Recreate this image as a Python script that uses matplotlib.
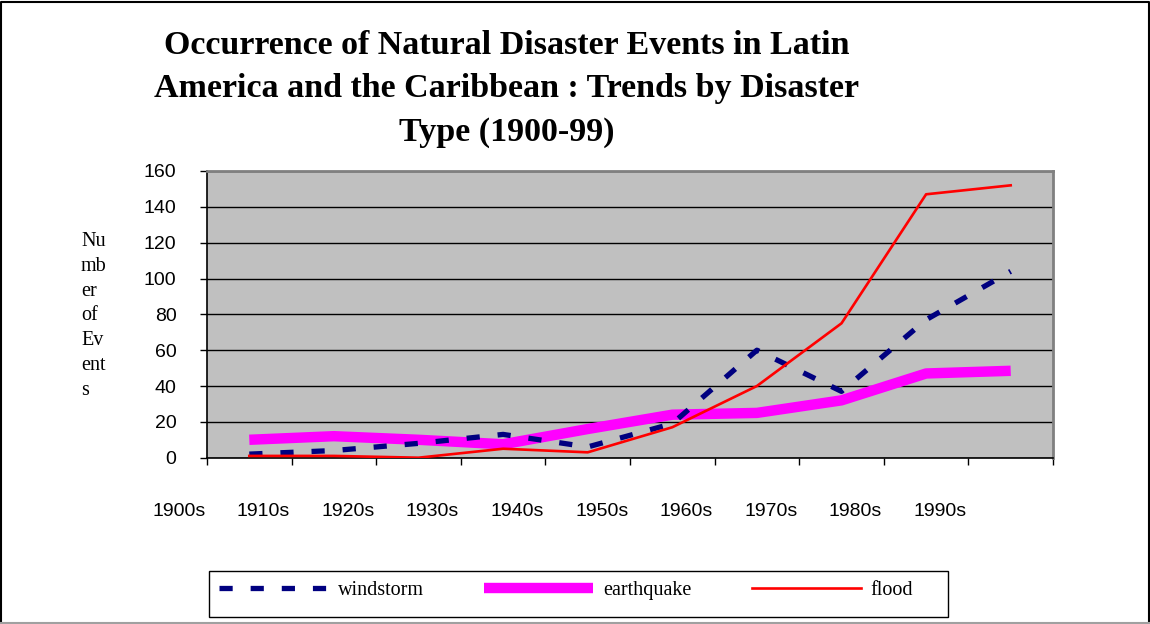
import matplotlib
matplotlib.use("Agg")
import matplotlib.pyplot as plt
from matplotlib.lines import Line2D
from matplotlib.patches import Rectangle
import matplotlib.transforms as mtransforms

# data
decades = ["1900s", "1910s", "1920s", "1930s", "1940s",
           "1950s", "1960s", "1970s", "1980s", "1990s"]
windstorm = [2, 4, 8, 13, 6, 19, 60, 37, 77, 104]
earthquake = [10, 12, 10, 7.5, 16, 24, 25, 32, 47, 48.5]
flood = [1, 1, 0, 5, 3, 17, 40, 75, 147, 152]
yticks = [0, 20, 40, 60, 80, 100, 120, 140, 160]

W, H = 1150, 624
fig = plt.figure(figsize=(W / 100, H / 100), dpi=100)
fig.patch.set_facecolor("white")

# plot area in pixel coords -> figure fractions
left, right, top, bottom = 207, 1053, 171, 457.7
ax = fig.add_axes([left / W, 1 - bottom / H, (right - left) / W, (bottom - top) / H])
ax.set_facecolor("#C0C0C0")

x = list(range(len(decades)))
ax.plot(x, earthquake, color="#FF00FF", lw=7.5, solid_capstyle="butt", zorder=3)
ax.plot(x, windstorm, color="#000080", lw=3.8, dashes=(2.5, 3.4), zorder=4)
ax.plot(x, flood, color="#FF0000", lw=1.9, zorder=5)

ax.set_xlim(-0.5, len(decades) - 0.5)
ax.set_ylim(0, 160)
ax.set_yticks(yticks)
ax.yaxis.grid(True, color="black", lw=1.0)
ax.set_axisbelow(True)

serif = "Liberation Serif"
sans = "Liberation Sans"

for lbl in ax.get_yticklabels():
    lbl.set_fontfamily(sans)
    lbl.set_fontsize(14)
ax.tick_params(axis="y", direction="out", length=5, width=1, pad=17, colors="black")

# category boundary tick marks on x
ax.set_xticks([i - 0.5 for i in range(len(decades) + 1)])
ax.set_xticklabels([])
ax.tick_params(axis="x", direction="out", length=5, width=1)

# decade labels sit offset to the left of the category centres
trans = mtransforms.blended_transform_factory(ax.transData, ax.transAxes)
for i, d in enumerate(decades):
    ax.text(i - 0.835, -54 / (bottom - top), d, transform=trans, ha="center",
            va="center", fontsize=14, family=sans, clip_on=False)

for s in ["top", "right"]:
    ax.spines[s].set_color("#808080")
    ax.spines[s].set_linewidth(2)
for s in ["left", "bottom"]:
    ax.spines[s].set_color("black")
    ax.spines[s].set_linewidth(1.2)

# title
fig.text(507 / W, 1 - 89 / H,
         "Occurrence of Natural Disaster Events in Latin\n"
         "America and the Caribbean : Trends by Disaster\n"
         "Type (1900-99)",
         ha="center", va="center", fontsize=24.5, fontweight="bold",
         family=serif, linespacing=1.5)

# y label broken into short lines like the original
fig.text(81 / W, 1 - 316 / H, "Nu\nmb\ner\nof\nEv\nent\ns", ha="left",
         va="center", fontsize=14.5, family=serif, linespacing=1.42)

# legend
handles = [Line2D([], [], color="#000080", lw=3.8, dashes=(2.5, 3.4)),
           Line2D([], [], color="#FF00FF", lw=7.5, solid_capstyle="butt"),
           Line2D([], [], color="#FF0000", lw=1.9)]
fig.legend(handles, ["windstorm", "earthquake", "flood"], ncol=3,
           loc="center left", bbox_to_anchor=(205 / W, 1 - 590 / H),
           frameon=False, prop={"family": serif, "size": 14.5},
           handlelength=5.4, handletextpad=0.5, columnspacing=3.0,
           borderpad=0.2)
fig.patches.append(Rectangle((209 / W, 1 - 617 / H), (948 - 209) / W, 46 / H,
                             transform=fig.transFigure, fill=False,
                             edgecolor="black", lw=1))

# outer border of the chart object
fig.lines.append(Line2D([0.5 / W, 0.5 / W, 1 - 1.5 / W, 1 - 1.5 / W],
                        [1 - 623 / H, 1 - 1.5 / H, 1 - 1.5 / H, 1 - 623 / H],
                        transform=fig.transFigure, color="black", lw=1.5))
fig.lines.append(Line2D([0, 1], [1 - 622.5 / H, 1 - 622.5 / H],
                        transform=fig.transFigure, color="#A0A0A0", lw=1.5))

fig.savefig("out.png", dpi=100)
